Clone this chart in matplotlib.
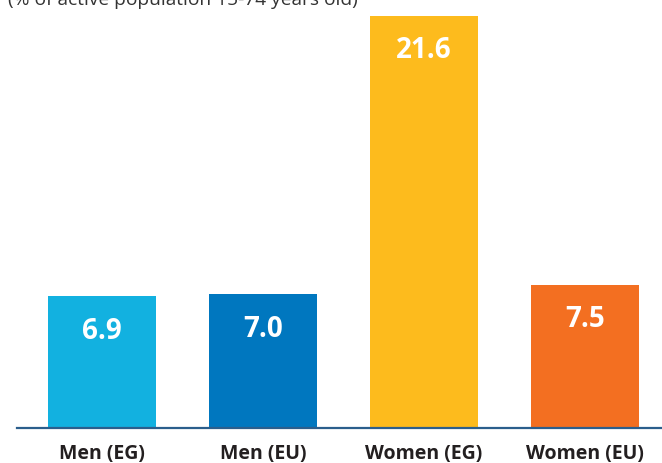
import matplotlib.pyplot as plt

categories = ['Men (EG)', 'Men (EU)', 'Women (EG)', 'Women (EU)']
values = [6.9, 7.0, 21.6, 7.5]
colors = ['#12b1e0', '#0077bf', '#fdbb1d', '#f36f21']

fig = plt.figure(figsize=(6.62, 4.64), dpi=100)
ax = fig.add_axes([17/662, 35/464, 645/662, 429/464])

x = range(len(categories))
ax.bar(x, values, width=0.67, color=colors)
ax.set_xlim(-0.528, 3.478)
ax.set_ylim(0, 22.49)

for i, v in zip(x, values):
    ax.annotate('%.1f' % v, (i, v), xytext=(0, -34), textcoords='offset pixels',
                ha='center', va='center', color='white', fontsize=20,
                fontweight='bold', family='Open Sans')

for s in ['top', 'right', 'left']:
    ax.spines[s].set_visible(False)
ax.spines['bottom'].set_color('#2b5e8c')
ax.spines['bottom'].set_linewidth(1.6)
ax.set_yticks([])
ax.set_xticks(list(x))
ax.set_xticklabels(categories, fontsize=14, fontweight='bold', family='Open Sans',
                   color='#231f20')
ax.tick_params(axis='x', length=0, pad=11)

fig.text(8/662, 1 - 5/464, '(% of active population 15-74 years old)',
         fontsize=13.8, color='#333333', family='Open Sans', va='baseline')

fig.savefig('out.png', dpi=100)
